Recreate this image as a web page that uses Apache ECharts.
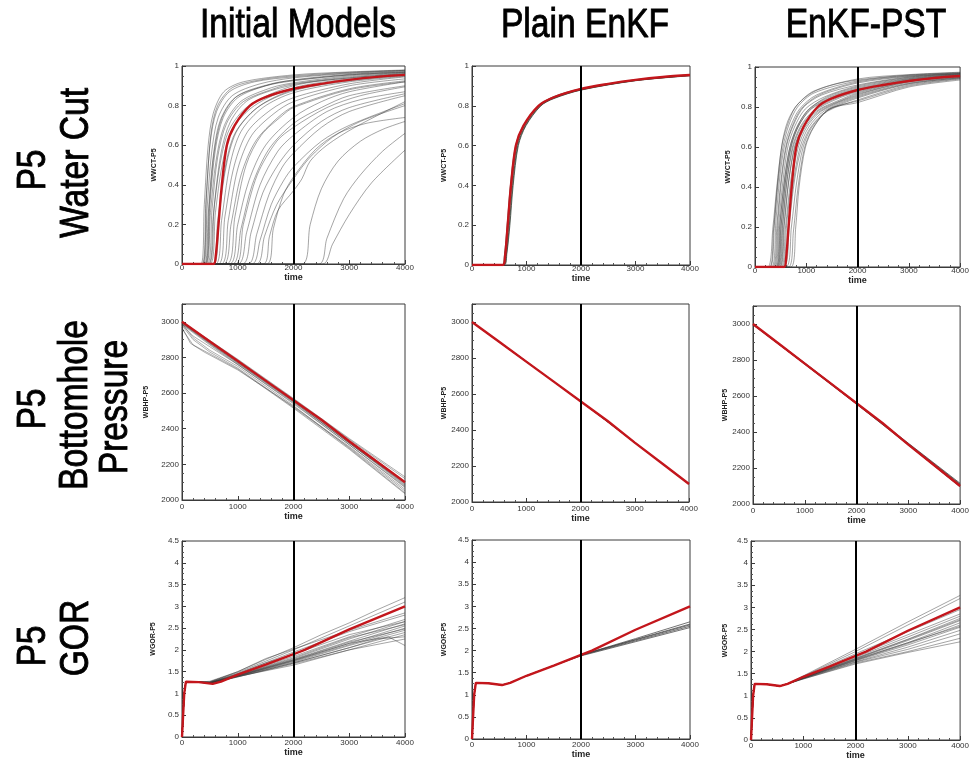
<!DOCTYPE html>
<html>
<head>
<meta charset="utf-8">
<script src="https://cdn.jsdelivr.net/npm/echarts@6/dist/echarts.min.js"></script>
<style>
html,body{margin:0;padding:0;background:#fff;}
#chart{width:972px;height:761px;}
</style>
</head>
<body>
<div id="chart"></div>
<script>
// ---------------- DATA ----------------
const columnTitles = ['Initial Models', 'Plain EnKF', 'EnKF-PST'];
const rowLabels = [['P5', 'Water Cut'], ['P5', 'Bottomhole', 'Pressure'], ['P5', 'GOR']];
const yNames = ['WWCT-P5', 'WBHP-P5', 'WGOR-P5'];
const xName = 'time';
const assimilationEnd = 2000;

// Water cut: truth (red)
const wcTruth = [[0,0],[565,0],[605,0.04],[655,0.2],[715,0.4],[805,0.6],[945,0.7],[1220,0.8],[1500,0.843],[2000,0.885],[2500,0.91],[3000,0.93],[3500,0.945],[4000,0.955]];

// Water cut: initial ensemble
const wcInitial = [
 [[0,0],[340,0],[400,0.3],[470,0.6],[560,0.76],[750,0.87],[1100,0.92],[2000,0.955],[3000,0.97],[4000,0.98]],
 [[0,0],[360,0],[430,0.32],[510,0.62],[620,0.77],[850,0.87],[1300,0.92],[2000,0.945],[3000,0.965],[4000,0.978]],
 [[0,0],[370,0],[440,0.35],[520,0.66],[640,0.8],[900,0.89],[1400,0.93],[2000,0.95],[3000,0.968],[4000,0.978]],
 [[0,0],[380,0],[450,0.28],[530,0.56],[650,0.74],[900,0.85],[1400,0.91],[2000,0.94],[3000,0.962],[4000,0.975]],
 [[0,0],[400,0],[470,0.25],[550,0.52],[680,0.72],[950,0.84],[1500,0.9],[2000,0.93],[3000,0.958],[4000,0.972]],
 [[0,0],[410,0],[490,0.3],[580,0.57],[720,0.74],[1000,0.85],[1600,0.91],[2000,0.928],[3000,0.955],[4000,0.97]],
 [[0,0],[420,0],[500,0.3],[600,0.58],[740,0.74],[1000,0.84],[1500,0.9],[2000,0.925],[3000,0.955],[4000,0.968]],
 [[0,0],[430,0],[510,0.26],[610,0.52],[760,0.7],[1050,0.82],[1600,0.89],[2000,0.915],[3000,0.95],[4000,0.967]],
 [[0,0],[450,0],[540,0.28],[640,0.54],[800,0.71],[1100,0.82],[1700,0.89],[2000,0.91],[3000,0.945],[4000,0.965]],
 [[0,0],[470,0],[560,0.24],[680,0.5],[850,0.68],[1200,0.8],[2000,0.9],[3000,0.94],[4000,0.962]],
 [[0,0],[480,0],[580,0.3],[700,0.56],[870,0.72],[1200,0.83],[2000,0.905],[3000,0.94],[4000,0.96]],
 [[0,0],[500,0],[600,0.26],[720,0.5],[900,0.68],[1300,0.8],[2000,0.89],[3000,0.935],[4000,0.958]],
 [[0,0],[540,0],[640,0.22],[770,0.48],[950,0.66],[1350,0.79],[2000,0.875],[3000,0.925],[4000,0.952]],
 [[0,0],[560,0],[670,0.26],[810,0.52],[1000,0.68],[1400,0.8],[2000,0.88],[3000,0.93],[4000,0.953]],
 [[0,0],[600,0],[710,0.22],[860,0.5],[1060,0.67],[1450,0.79],[2000,0.865],[3000,0.92],[4000,0.948]],
 [[0,0],[650,0],[770,0.24],[940,0.5],[1180,0.67],[1600,0.78],[2000,0.84],[3000,0.91],[4000,0.945]],
 [[0,0],[700,0],[830,0.22],[1000,0.48],[1250,0.65],[1650,0.76],[2000,0.82],[3000,0.9],[4000,0.935]],
 [[0,0],[740,0],[880,0.2],[1060,0.45],[1320,0.62],[1720,0.74],[2000,0.795],[3000,0.885],[4000,0.925]],
 [[0,0],[800,0],[950,0.24],[1150,0.5],[1420,0.65],[1800,0.75],[2000,0.79],[3000,0.88],[4000,0.92]],
 [[0,0],[850,0],[1000,0.2],[1200,0.42],[1500,0.6],[2000,0.74],[2500,0.82],[3000,0.87],[4000,0.92]],
 [[0,0],[900,0],[1060,0.18],[1260,0.4],[1560,0.58],[2000,0.71],[2500,0.79],[3000,0.85],[4000,0.9]],
 [[0,0],[950,0],[1100,0.2],[1350,0.45],[1700,0.62],[2000,0.69],[2600,0.79],[3200,0.85],[4000,0.895]],
 [[0,0],[1000,0],[1160,0.16],[1400,0.4],[1720,0.57],[2000,0.65],[2600,0.77],[3200,0.83],[4000,0.87]],
 [[0,0],[1080,0],[1240,0.16],[1450,0.36],[1720,0.5],[2000,0.6],[2500,0.72],[3000,0.79],[4000,0.86]],
 [[0,0],[1180,0],[1340,0.15],[1560,0.35],[1800,0.49],[2000,0.56],[2500,0.69],[3000,0.77],[4000,0.85]],
 [[0,0],[1250,0],[1400,0.12],[1600,0.3],[1820,0.42],[2000,0.49],[2500,0.62],[3000,0.7],[4000,0.81]],
 [[0,0],[1330,0],[1480,0.14],[1700,0.3],[2000,0.43],[2300,0.54],[2700,0.64],[3200,0.72],[4000,0.8]],
 [[0,0],[1450,0],[1570,0.14],[1720,0.27],[2000,0.37],[2150,0.43],[2300,0.52],[2600,0.6],[3100,0.69],[4000,0.82]],
 [[0,0],[1520,0],[1640,0.18],[1820,0.35],[2000,0.44],[2400,0.58],[2800,0.66],[3300,0.71],[4000,0.74]],
 [[0,0],[2150,0],[2300,0.2],[2500,0.38],[2800,0.52],[3200,0.62],[3600,0.68],[4000,0.72]],
 [[0,0],[2450,0],[2600,0.13],[2900,0.33],[3200,0.45],[3600,0.57],[4000,0.66]],
 [[0,0],[2520,0],[2700,0.1],[3000,0.25],[3400,0.41],[4000,0.575]]
];

// Water cut: plain EnKF ensemble
const wcEnkf = [
 [[0,0],[570,0],[620,0.05],[670,0.2],[730,0.4],[825,0.6],[965,0.7],[1240,0.8],[1500,0.84],[2000,0.882],[3000,0.928],[4000,0.953]],
 [[0,0],[580,0],[630,0.05],[685,0.2],[745,0.4],[840,0.6],[980,0.7],[1255,0.8],[1500,0.838],[2000,0.88],[3000,0.927],[4000,0.952]],
 [[0,0],[560,0],[605,0.05],[658,0.2],[718,0.4],[812,0.6],[952,0.7],[1230,0.8],[1500,0.843],[2000,0.884],[3000,0.929],[4000,0.954]],
 [[0,0],[590,0],[640,0.06],[695,0.2],[755,0.4],[850,0.6],[990,0.7],[1265,0.8],[1500,0.836],[2000,0.879],[3000,0.926],[4000,0.951]],
 [[0,0],[550,0],[595,0.05],[645,0.2],[705,0.4],[800,0.6],[940,0.7],[1215,0.8],[1500,0.846],[2000,0.886],[3000,0.931],[4000,0.956]]
];

// Water cut: EnKF-PST ensemble
const wcPst = [
 [[0,0],[250,0],[350,0.2],[425,0.4],[520,0.6],[620,0.7],[790,0.8],[1100,0.87],[1500,0.91],[2000,0.935],[3000,0.96],[4000,0.972]],
 [[0,0],[280,0],[360,0.18],[440,0.42],[530,0.62],[640,0.73],[820,0.81],[1150,0.88],[2000,0.94],[3000,0.962],[4000,0.974]],
 [[0,0],[290,0],[380,0.22],[450,0.42],[545,0.6],[660,0.71],[830,0.8],[1150,0.87],[2000,0.93],[3000,0.958],[4000,0.97]],
 [[0,0],[320,0],[410,0.24],[480,0.44],[570,0.6],[690,0.7],[870,0.79],[1200,0.86],[2000,0.925],[3000,0.955],[4000,0.968]],
 [[0,0],[340,0],[430,0.22],[500,0.42],[600,0.6],[720,0.7],[900,0.79],[1250,0.86],[2000,0.92],[3000,0.953],[4000,0.967]],
 [[0,0],[360,0],[450,0.24],[520,0.44],[620,0.61],[750,0.71],[950,0.8],[1300,0.86],[2000,0.91],[3000,0.95],[4000,0.966]],
 [[0,0],[380,0],[465,0.22],[540,0.42],[640,0.6],[770,0.7],[980,0.79],[1350,0.85],[2000,0.905],[3000,0.948],[4000,0.965]],
 [[0,0],[400,0],[480,0.2],[560,0.4],[665,0.58],[800,0.69],[1020,0.78],[1400,0.85],[2000,0.9],[3000,0.945],[4000,0.963]],
 [[0,0],[410,0],[495,0.24],[575,0.44],[680,0.6],[820,0.7],[1050,0.79],[1450,0.85],[2000,0.895],[3000,0.942],[4000,0.962]],
 [[0,0],[420,0],[505,0.2],[590,0.42],[700,0.6],[840,0.7],[1080,0.79],[1500,0.85],[2000,0.89],[3000,0.94],[4000,0.96]],
 [[0,0],[430,0],[515,0.22],[600,0.44],[715,0.61],[860,0.71],[1100,0.79],[1500,0.845],[2000,0.885],[3000,0.937],[4000,0.958]],
 [[0,0],[440,0],[530,0.2],[615,0.42],[730,0.6],[880,0.7],[1130,0.78],[1550,0.84],[2000,0.88],[3000,0.935],[4000,0.957]],
 [[0,0],[455,0],[545,0.22],[630,0.44],[745,0.6],[900,0.7],[1160,0.78],[1600,0.84],[2000,0.875],[3000,0.932],[4000,0.955]],
 [[0,0],[470,0],[560,0.2],[650,0.42],[770,0.6],[930,0.7],[1200,0.78],[1650,0.835],[2000,0.87],[3000,0.93],[4000,0.954]],
 [[0,0],[480,0],[575,0.22],[665,0.44],[790,0.61],[950,0.7],[1230,0.78],[1700,0.835],[2000,0.865],[3000,0.927],[4000,0.952]],
 [[0,0],[500,0],[595,0.2],[690,0.42],[815,0.6],[980,0.7],[1270,0.78],[2000,0.86],[3000,0.925],[4000,0.95]],
 [[0,0],[520,0],[620,0.22],[715,0.43],[845,0.6],[1010,0.7],[1300,0.78],[2000,0.855],[3000,0.92],[4000,0.948]],
 [[0,0],[540,0],[645,0.2],[745,0.42],[880,0.6],[1050,0.7],[1350,0.78],[2000,0.85],[3000,0.917],[4000,0.946]],
 [[0,0],[560,0],[670,0.22],[775,0.44],[910,0.6],[1090,0.7],[1400,0.78],[2000,0.845],[3000,0.915],[4000,0.945]],
 [[0,0],[600,0],[710,0.2],[810,0.42],[940,0.6],[1110,0.7],[1420,0.78],[2000,0.835],[3000,0.91],[4000,0.942]],
 [[0,0],[650,0],[750,0.18],[840,0.4],[970,0.6],[1140,0.7],[1450,0.79],[2000,0.83],[3000,0.905],[4000,0.94]],
 [[0,0],[700,0],[795,0.2],[860,0.4],[985,0.6],[1150,0.7],[1450,0.79],[2000,0.822],[3000,0.9],[4000,0.935]]
];

// Bottomhole pressure
const bhpTruth = [[0,3000],[500,2890],[1000,2780],[1500,2670],[2000,2560],[2500,2450],[3000,2330],[3500,2215],[4000,2100]];
const bhpInitial = [
 [[0,2990],[200,2910],[500,2840],[1000,2750],[1500,2640],[2000,2530],[3000,2290],[4000,2040]],
 [[0,2985],[200,2920],[500,2860],[1000,2760],[2000,2545],[3000,2310],[4000,2070]],
 [[0,2995],[500,2880],[1000,2770],[2000,2555],[3000,2320],[4000,2080]],
 [[0,2980],[200,2900],[500,2830],[1000,2740],[2000,2520],[3000,2295],[4000,2050]],
 [[0,3000],[500,2890],[1000,2785],[2000,2565],[3000,2340],[4000,2120]],
 [[0,2990],[500,2875],[1000,2765],[2000,2550],[3000,2320],[4000,2090]],
 [[0,2970],[150,2880],[400,2830],[1000,2730],[2000,2525],[3000,2300],[4000,2060]],
 [[0,3000],[500,2895],[1000,2790],[2000,2570],[3000,2345],[4000,2130]],
 [[0,2995],[500,2885],[1000,2775],[2000,2560],[3000,2325],[4000,2085]],
 [[0,2985],[500,2870],[1000,2760],[2000,2540],[3000,2310],[4000,2075]],
 [[0,2990],[500,2880],[1000,2770],[2000,2552],[3000,2318],[4000,2095]],
 [[0,2960],[200,2870],[500,2820],[1000,2735],[2000,2515],[3000,2285],[4000,2035]]
];
const bhpEnkf = [
 [[0,3000],[1000,2782],[2000,2558],[3000,2332],[4000,2098]],
 [[0,2998],[1000,2778],[2000,2562],[3000,2328],[4000,2102]]
];
const bhpPst = [
 [[0,3000],[1000,2780],[2000,2558],[3000,2335],[4000,2110]],
 [[0,2995],[1000,2778],[2000,2556],[3000,2332],[4000,2106]],
 [[0,3000],[1000,2784],[2000,2562],[3000,2338],[4000,2115]],
 [[0,2998],[1000,2776],[2000,2555],[3000,2328],[4000,2095]]
];

// Gas-oil ratio
const gorTruth = [[0,0],[40,1.0],[70,1.27],[300,1.26],[550,1.22],[700,1.27],[1000,1.43],[1500,1.66],[2000,1.9],[2200,2.0],[3000,2.47],[4000,3.0]];
const gorInitial = [
 [[0,0],[40,1.0],[70,1.27],[300,1.26],[500,1.28],[1000,1.5],[1500,1.78],[2000,2.05],[2500,2.35],[3000,2.62],[3500,2.92],[4000,3.2]],
 [[0,0],[40,1.0],[70,1.27],[300,1.26],[500,1.27],[1000,1.48],[2000,2.0],[3000,2.55],[4000,3.1]],
 [[0,0],[40,1.0],[70,1.27],[300,1.26],[500,1.26],[1000,1.46],[2000,1.95],[3000,2.42],[4000,2.8]],
 [[0,0],[40,1.0],[70,1.27],[300,1.26],[500,1.25],[1000,1.44],[2000,1.85],[3000,2.3],[4000,2.7]],
 [[0,0],[40,1.0],[70,1.27],[300,1.26],[500,1.25],[1000,1.42],[2000,1.8],[3000,2.25],[4000,2.65]],
 [[0,0],[40,1.0],[70,1.27],[300,1.26],[500,1.24],[1000,1.42],[2000,1.78],[3000,2.2],[4000,2.6]],
 [[0,0],[40,1.0],[70,1.27],[300,1.26],[500,1.24],[1000,1.41],[2000,1.76],[3000,2.15],[4000,2.55]],
 [[0,0],[40,1.0],[70,1.27],[300,1.26],[500,1.24],[1000,1.4],[2000,1.74],[3000,2.12],[4000,2.5]],
 [[0,0],[40,1.0],[70,1.27],[300,1.26],[500,1.23],[1000,1.4],[2000,1.72],[3000,2.1],[4000,2.45]],
 [[0,0],[40,1.0],[70,1.27],[300,1.26],[500,1.23],[1000,1.39],[2000,1.7],[3000,2.05],[4000,2.4]],
 [[0,0],[40,1.0],[70,1.27],[300,1.26],[500,1.23],[1000,1.38],[2000,1.68],[3000,2.0],[4000,2.35]],
 [[0,0],[40,1.0],[70,1.27],[300,1.26],[500,1.23],[1000,1.38],[2000,1.7],[3000,2.05],[3500,2.25],[4000,2.3]],
 [[0,0],[40,1.0],[70,1.27],[300,1.26],[500,1.24],[1000,1.4],[2000,1.75],[3000,2.15],[3700,2.3],[4000,2.1]],
 [[0,0],[40,1.0],[70,1.27],[300,1.26],[500,1.25],[1000,1.43],[2000,1.82],[3000,2.28],[4000,2.58]],
 [[0,0],[40,1.0],[70,1.27],[300,1.26],[500,1.24],[1000,1.41],[2000,1.77],[3000,2.18],[4000,2.48]],
 [[0,0],[40,1.0],[70,1.27],[300,1.26],[500,1.25],[1000,1.45],[1500,1.7],[2000,1.9],[3000,2.35],[4000,2.65]],
 [[0,0],[40,1.0],[70,1.27],[300,1.26],[500,1.26],[1000,1.5],[1500,1.8],[2000,2.02],[3000,2.45],[4000,2.85]],
 [[0,0],[40,1.0],[70,1.27],[300,1.26],[500,1.24],[1000,1.39],[2000,1.65],[3000,2.0],[4000,2.25]]
];
const gorEnkf = [
 [[0,0],[40,1.0],[70,1.27],[300,1.26],[550,1.22],[700,1.27],[1000,1.43],[1500,1.66],[2000,1.9],[3000,2.25],[4000,2.6]],
 [[0,0],[40,1.0],[70,1.27],[300,1.26],[550,1.22],[700,1.27],[1000,1.43],[1500,1.66],[2000,1.89],[3000,2.22],[4000,2.55]],
 [[0,0],[40,1.0],[70,1.27],[300,1.26],[550,1.22],[700,1.27],[1000,1.43],[1500,1.66],[2000,1.9],[3000,2.27],[4000,2.65]],
 [[0,0],[40,1.0],[70,1.27],[300,1.26],[550,1.22],[700,1.27],[1000,1.43],[1500,1.66],[2000,1.88],[3000,2.2],[4000,2.52]],
 [[0,0],[40,1.0],[70,1.27],[300,1.26],[550,1.22],[700,1.27],[1000,1.43],[1500,1.66],[2000,1.9],[3000,2.24],[4000,2.58]]
];
const gorPst = [
 [[0,0],[40,1.0],[70,1.27],[300,1.26],[550,1.22],[700,1.27],[1000,1.45],[2000,2.05],[3000,2.67],[4000,3.27]],
 [[0,0],[40,1.0],[70,1.27],[300,1.26],[550,1.22],[700,1.27],[1000,1.44],[2000,2.0],[3000,2.6],[4000,3.2]],
 [[0,0],[40,1.0],[70,1.27],[300,1.26],[550,1.22],[700,1.27],[1000,1.43],[2000,1.95],[3000,2.45],[4000,2.95]],
 [[0,0],[40,1.0],[70,1.27],[300,1.26],[550,1.22],[700,1.27],[1000,1.42],[2000,1.9],[3000,2.38],[4000,2.85]],
 [[0,0],[40,1.0],[70,1.27],[300,1.26],[550,1.22],[700,1.27],[1000,1.42],[2000,1.87],[3000,2.33],[4000,2.8]],
 [[0,0],[40,1.0],[70,1.27],[300,1.26],[550,1.22],[700,1.27],[1000,1.41],[2000,1.85],[3000,2.28],[4000,2.75]],
 [[0,0],[40,1.0],[70,1.27],[300,1.26],[550,1.22],[700,1.27],[1000,1.41],[2000,1.83],[3000,2.25],[4000,2.7]],
 [[0,0],[40,1.0],[70,1.27],[300,1.26],[550,1.22],[700,1.27],[1000,1.4],[2000,1.82],[3000,2.2],[4000,2.65]],
 [[0,0],[40,1.0],[70,1.27],[300,1.26],[550,1.22],[700,1.27],[1000,1.4],[2000,1.8],[3000,2.18],[4000,2.6]],
 [[0,0],[40,1.0],[70,1.27],[300,1.26],[550,1.22],[700,1.27],[1000,1.4],[2000,1.79],[3000,2.15],[4000,2.55]],
 [[0,0],[40,1.0],[70,1.27],[300,1.26],[550,1.22],[700,1.27],[1000,1.39],[2000,1.77],[3000,2.1],[4000,2.48]],
 [[0,0],[40,1.0],[70,1.27],[300,1.26],[550,1.22],[700,1.27],[1000,1.39],[2000,1.76],[3000,2.05],[4000,2.4]],
 [[0,0],[40,1.0],[70,1.27],[300,1.26],[550,1.22],[700,1.27],[1000,1.38],[2000,1.74],[3000,2.0],[4000,2.3]],
 [[0,0],[40,1.0],[70,1.27],[300,1.26],[550,1.22],[700,1.27],[1000,1.38],[2000,1.72],[3000,1.98],[4000,2.22]],
 [[0,0],[40,1.0],[70,1.27],[300,1.26],[550,1.22],[700,1.27],[1000,1.4],[2000,1.81],[3000,2.2],[4000,2.57]],
 [[0,0],[40,1.0],[70,1.27],[300,1.26],[550,1.22],[700,1.27],[1000,1.41],[2000,1.84],[3000,2.27],[4000,2.72]]
];

// ---------------- LAYOUT / STYLE ----------------
const FONT = '"Liberation Sans", Arial, sans-serif';
const gridRects = [
 [182,66,223,198],[472,66,218,199],[755,67,210,200],
 [182,304,223,196],[472,304,217,198],[753,306,211,198],
 [182,541,223,196],[472,540,218,199],[751,541,212,199]
];
const yNameGaps = [24,24,23,32,24.5,23,25,24.5,22.5];
const rowAxis = [
 {min:0, max:1, interval:0.2, labelMargin:0, nameGap:8, showMax:true},
 {min:2000, max:3100, interval:200, labelMargin:3, nameGap:12, showMax:false},
 {min:0, max:4.5, interval:0.5, labelMargin:2, nameGap:11, showMax:true}
];
const panels = [
 {members: wcInitial, truth: wcTruth, smooth: 0.3, gray: 'rgba(55,55,55,0.5)'},
 {members: wcEnkf, truth: wcTruth, smooth: 0.3, gray: 'rgba(50,60,50,0.85)'},
 {members: wcPst, truth: wcTruth, smooth: 0.3, gray: 'rgba(55,55,55,0.5)'},
 {members: bhpInitial, truth: bhpTruth, smooth: false, gray: 'rgba(55,55,55,0.45)'},
 {members: bhpEnkf, truth: bhpTruth, smooth: false, gray: 'rgba(50,50,50,0.85)'},
 {members: bhpPst, truth: bhpTruth, smooth: false, gray: 'rgba(50,50,50,0.8)'},
 {members: gorInitial, truth: gorTruth, smooth: false, gray: 'rgba(55,55,55,0.5)'},
 {members: gorEnkf, truth: gorTruth, smooth: false, gray: 'rgba(60,60,60,0.8)'},
 {members: gorPst, truth: gorTruth, smooth: false, gray: 'rgba(55,55,55,0.5)'}
];
const plainNumber = v => String(v);

const grids = [], xAxes = [], yAxes = [], series = [];
panels.forEach((p, i) => {
  const row = Math.floor(i / 3);
  const ra = rowAxis[row];
  const r = gridRects[i];
  grids.push({left: r[0], top: r[1], width: r[2], height: r[3], show: true,
    borderColor: '#3a3a3a', borderWidth: 1, backgroundColor: 'transparent', containLabel: false});
  xAxes.push({
    gridIndex: i, type: 'value', min: 0, max: 4000, interval: 1000,
    name: xName, nameLocation: 'middle', nameGap: ra.nameGap,
    nameTextStyle: {fontFamily: FONT, fontWeight: 'bold', fontSize: 9, color: '#222'},
    axisLine: {show: true, onZero: false, lineStyle: {color: '#3a3a3a', width: 1}},
    axisTick: {show: true, inside: true, length: 4, lineStyle: {color: '#3a3a3a'}},
    minorTick: {show: true, splitNumber: 5, length: 2, lineStyle: {color: '#555'}},
    axisLabel: {fontFamily: FONT, fontSize: 8, color: '#333', margin: ra.labelMargin, formatter: plainNumber},
    splitLine: {show: false}
  });
  yAxes.push({
    gridIndex: i, type: 'value', min: ra.min, max: ra.max, interval: ra.interval,
    name: yNames[row], nameLocation: 'middle', nameGap: yNameGaps[i],
    nameTextStyle: {fontFamily: FONT, fontWeight: 'bold', fontSize: 7, color: '#222'},
    axisLine: {show: true, onZero: false, lineStyle: {color: '#3a3a3a', width: 1}},
    axisTick: {show: true, inside: true, length: 4, lineStyle: {color: '#3a3a3a'}},
    minorTick: {show: true, splitNumber: 4, length: 2, lineStyle: {color: '#555'}},
    axisLabel: {fontFamily: FONT, fontSize: 8, color: '#333', margin: 3, showMaxLabel: ra.showMax, formatter: plainNumber},
    splitLine: {show: false}
  });
  p.members.forEach(m => {
    series.push({
      type: 'line', xAxisIndex: i, yAxisIndex: i, data: m,
      showSymbol: false, symbol: 'none', smooth: p.smooth, silent: true,
      lineStyle: {color: p.gray, width: 0.9}, z: 2, clip: true
    });
  });
  series.push({
    type: 'line', xAxisIndex: i, yAxisIndex: i, data: p.truth,
    showSymbol: false, symbol: 'none', smooth: p.smooth, silent: true,
    lineStyle: {color: '#c3161c', width: 2.4}, z: 3, clip: true,
    markLine: {symbol: 'none', silent: true, label: {show: false}, animation: false,
      lineStyle: {color: '#000', width: 2, type: 'solid'},
      data: [{xAxis: assimilationEnd}]}
  });
});

// Titles and row labels
const titleCenters = [[298, 26], [585, 26], [866, 26]];
const rowLabelPos = [
  [[34, 170], [77, 163]],
  [[34, 409], [76, 405], [116, 407]],
  [[34, 646], [77, 638]]
];
const graphic = [];
const bigText = (t, x, y, rot) => ({type: 'text', x: x, y: y, rotation: rot, scaleX: 0.82,
  style: {text: t, x: 0, y: 0, fill: '#000', stroke: '#000', lineWidth: 0.9,
    font: '41px ' + FONT, textAlign: 'center', textVerticalAlign: 'middle'}});
columnTitles.forEach((t, k) => graphic.push(bigText(t, titleCenters[k][0], titleCenters[k][1], 0)));
rowLabels.forEach((lines, r) => {
  lines.forEach((t, k) => {
    const pos = rowLabelPos[r][k];
    graphic.push(bigText(t, pos[0], pos[1], Math.PI / 2));
  });
});

const chart = echarts.init(document.getElementById('chart'), null, {renderer: 'canvas'});
chart.setOption({
  animation: false,
  backgroundColor: '#fff',
  grid: grids, xAxis: xAxes, yAxis: yAxes, series: series, graphic: graphic
});
</script>
</body>
</html>
